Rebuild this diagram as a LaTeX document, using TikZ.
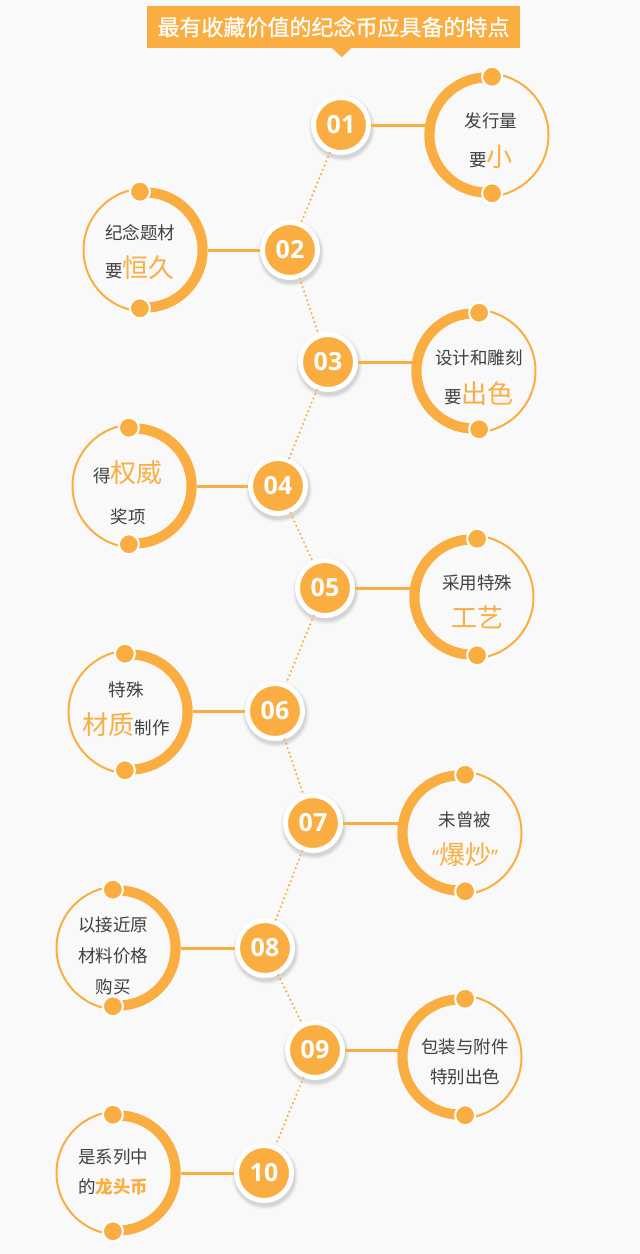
\documentclass[tikz,border=0pt]{standalone}
\usepackage{fontspec}
\setmainfont{Noto Sans CJK SC}
\newfontfamily\titlefont{Noto Sans CJK SC}[FakeBold=0.8]
\newfontfamily\numfont{Open Sans}
\newfontfamily\quotefont{Open Sans}
\usetikzlibrary{calc}
\definecolor{og}{HTML}{FAAE42}
\definecolor{bgc}{HTML}{F9F9F9}
\definecolor{ink}{HTML}{404040}
\tikzset{
  numnode/.style={circle, fill=og, draw=white, line width=5pt, minimum size=55pt, inner sep=0pt,
     text=white, font=\numfont\bfseries\fontsize{25}{28}\selectfont},
  ring/.style={circle, draw=og, line width=2pt, minimum size=123pt, inner sep=0pt},
  thickarc/.style={draw=og, line width=10pt},
  knob/.style={circle, fill=og, draw=white, line width=2pt, minimum size=20pt, inner sep=0pt},
  hline/.style={draw=og, line width=3pt},
  dotline/.style={draw=og, line width=2.4pt, dash pattern=on 0pt off 4.6pt, line cap=round},
  txt/.style={text=ink, inner sep=0pt, font=\fontsize{17.5}{20}\selectfont, anchor=center},
  titlebox/.style={fill=og, text=white, minimum width=373pt, minimum height=42pt, inner sep=0pt,
     font=\titlefont\fontsize{22}{26}\selectfont}
}
\newcommand\hl[1]{{\color{og}\fontsize{26}{30}\selectfont #1}}
\newcommand\numc[4]{%
  \foreach \rr/\oo in {33.5/0.025,32.5/0.03,31.5/0.04,30.5/0.05}
    \fill[black,opacity=\oo] (#2+1,#3+3) circle[radius=\rr];
  \node[numnode] (#1) at (#2,#3) {#4};}
\newcommand\ringR[3]{% thick arc on the left
  \node[ring] (#1) at (#2,#3) {};
  \draw[thickarc] ($(#1.center)+(85:57.5)$) arc[start angle=85,end angle=275,radius=57.5];
  \node[knob] (#1-a) at ($(#1.center)+(85:58.5)$) {};
  \node[knob] (#1-b) at ($(#1.center)+(-85:58.5)$) {};}
\newcommand\ringL[3]{% thick arc on the right
  \node[ring] (#1) at (#2,#3) {};
  \draw[thickarc] ($(#1.center)+(-95:57.5)$) arc[start angle=-95,end angle=95,radius=57.5];
  \node[knob] (#1-a) at ($(#1.center)+(95:58.5)$) {};
  \node[knob] (#1-b) at ($(#1.center)+(-95:58.5)$) {};}
\begin{document}
\begin{tikzpicture}[x=1pt,y=-1pt]
\fill[bgc] (0,0) rectangle (640,1254);
\useasboundingbox (0,0) rectangle (640,1254);
% title
\node[titlebox] (title) at (333.5,27) {最有收藏价值的纪念币应具备的特点};
\fill[og] ($(title.south west)+(185,-0.5)$) -- ++(10,9.5) -- ++(10,-9.5) -- cycle;
% number circles
\numc{n1}{341}{125}{01}
\numc{n2}{290}{250}{02}
\numc{n3}{328}{362}{03}
\numc{n4}{278}{486}{04}
\numc{n5}{325}{588}{05}
\numc{n6}{275}{711}{06}
\numc{n7}{313}{823}{07}
\numc{n8}{265}{948}{08}
\numc{n9}{315}{1050}{09}
\numc{n10}{264}{1173}{10}
% dotted chain
\draw[dotline] (n1) -- (n2);
\draw[dotline] (n2) -- (n3);
\draw[dotline] (n3) -- (n4);
\draw[dotline] (n4) -- (n5);
\draw[dotline] (n5) -- (n6);
\draw[dotline] (n6) -- (n7);
\draw[dotline] (n7) -- (n8);
\draw[dotline] (n8) -- (n9);
\draw[dotline] (n9) -- (n10);
% big circles
\ringR{c1}{487}{135}
\ringL{c2}{145}{250}
\ringR{c3}{474}{371}
\ringL{c4}{134}{486}
\ringR{c5}{472}{597}
\ringL{c6}{130}{712}
\ringR{c7}{460}{833}
\ringL{c8}{118}{948}
\ringR{c9}{460}{1057}
\ringL{c10}{118}{1173}
% horizontal links
\draw[hline] (n1) -- (n1 -| c1.west);
\draw[hline] (n2) -- (n2 -| c2.east);
\draw[hline] (n3) -- (n3 -| c3.west);
\draw[hline] (n4) -- (n4 -| c4.east);
\draw[hline] (n5) -- (n5 -| c5.west);
\draw[hline] (n6) -- (n6 -| c6.east);
\draw[hline] (n7) -- (n7 -| c7.west);
\draw[hline] (n8) -- (n8 -| c8.east);
\draw[hline] (n9) -- (n9 -| c9.west);
\draw[hline] (n10) -- (n10 -| c10.east);
% texts
\node[txt] (t1a) at (491,121) {发行量};
\node[txt] (t1b) at (491,157) {要\hl{小}};
\node[txt] (t2a) at (140,233) {纪念题材};
\node[txt] (t2b) at (140,268) {要\hl{恒久}};
\node[txt] (t3a) at (479,358) {设计和雕刻};
\node[txt] (t3b) at (479,394) {要\hl{出色}};
\node[txt] (t4a) at (128,473) {得\hl{权威}};
\node[txt] (t4b) at (128,517) {奖项};
\node[txt] (t5a) at (477,583) {采用特殊};
\node[txt] (t5b) at (477,617) {\hl{工艺}};
\node[txt] (t6a) at (126,690) {特殊};
\node[txt] (t6b) at (126,725) {\hl{材质}制作};
\node[txt] (t7a) at (465,820) {未曾被};
\node[txt] (t7b) at (465,855) {\hl{\quotefont\fontsize{20}{24}\selectfont“}\hl{爆炒}\hl{\quotefont\fontsize{20}{24}\selectfont”}};
\node[txt] (t8a) at (113,925) {以接近原};
\node[txt] (t8b) at (113,956) {材料价格};
\node[txt] (t8c) at (113,987) {购买};
\node[txt] (t9a) at (465,1047) {包装与附件};
\node[txt] (t9b) at (465,1077) {特别出色};
\node[txt] (t10a) at (113,1157) {是系列中};
\node[txt] (t10b) at (113,1187) {的{\color{og}\bfseries 龙头币}};
\end{tikzpicture}
\end{document}
